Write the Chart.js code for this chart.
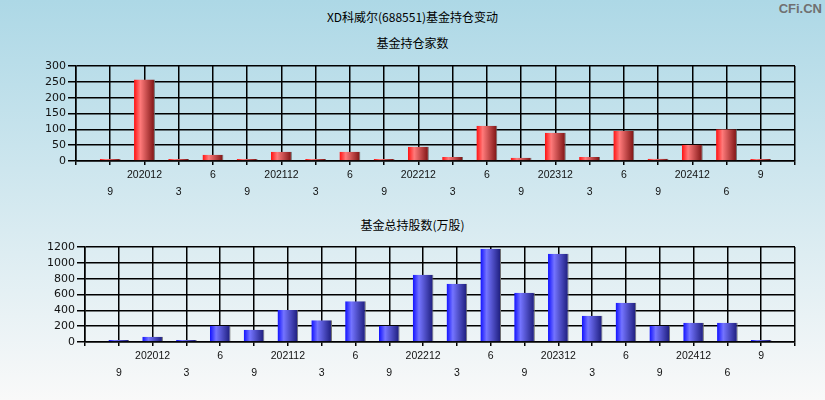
<!DOCTYPE html>
<html>
<head>
<meta charset="utf-8">
<script src="https://cdn.jsdelivr.net/npm/chart.js@4"></script>
<style>
  body { margin: 0; }
  #page {
    position: relative; width: 825px; height: 400px; overflow: hidden;
    background: linear-gradient(to bottom, #add8e6 0%, #f9f9f9 100%);
    font-family: "Noto Sans CJK SC", sans-serif; color: #000;
  }
  .title { position: absolute; left: 0; width: 825px; text-align: center; font-size: 12px; line-height: 16px; }
  #logo { position: absolute; right: 3px; top: 1px; font: bold 13px "Liberation Sans", sans-serif; color: #707070; }
  canvas { position: absolute; left: 0; }
</style>
</head>
<body>
<div id="page">
  <div class="title" style="top:9px">XD科威尔(688551)基金持仓变动</div>
  <div id="logo">CFi.CN</div>
  <div class="title" style="top:35px">基金持仓家数</div>
  <div class="title" style="top:217px">基金总持股数(万股)</div>
  <canvas id="countChart" style="top:0" width="825" height="205"></canvas>
  <canvas id="shareChart" style="top:205px" width="825" height="195"></canvas>
</div>
<script>
const periods = ['202009', '202012', '202103', '202106', '202109', '202112', '202203', '202206', '202209', '202212',
  '202303', '202306', '202309', '202312', '202403', '202406', '202409', '202412', '202506', '202509'];
const tickLabels = ['9', '202012', '3', '6', '9', '202112', '3', '6', '9', '202212',
  '3', '6', '9', '202312', '3', '6', '9', '202412', '6', '9'];
const fundCounts = [4, 257, 4, 20, 3, 29, 4, 29, 3, 45, 13, 111, 10, 89, 13, 95, 7, 51, 100, 4];
const fundShares = [15, 67, 15, 206, 156, 404, 274, 514, 206, 850, 737, 1179, 623, 1116, 333, 497, 206, 244, 244, 17];
const countTicks = { max: 300, step: 50 };
const shareTicks = { max: 1200, step: 200 };

// one empty slot at each end, labels alternate between the two rows
const axisLabels = ['', ...tickLabels.map((t, i) => i % 2 === 0 ? ['', t] : [t, '']), ''];

function barGradient(stops) {
  return function (c) {
    const chart = c.chart;
    const xs = chart.scales.x;
    if (!xs || !chart.chartArea) return stops[0];
    const cx = xs.getPixelForValue(c.dataIndex);
    const w = (xs.getPixelForValue(1) - xs.getPixelForValue(0)) * 0.61;
    const g = chart.ctx.createLinearGradient(cx - w / 2, 0, cx + w / 2, 0);
    g.addColorStop(0, stops[0]);
    g.addColorStop(0.3, stops[1]);
    g.addColorStop(1, stops[2]);
    return g;
  };
}

function makeChart(id, values, ticks, colors, yWidth, topPad, xHeight) {
  return new Chart(document.getElementById(id), {
    type: 'bar',
    data: {
      labels: axisLabels,
      datasets: [{
        data: [null, ...values, null],
        backgroundColor: barGradient(colors),
        borderColor: '#707070',
        borderWidth: { right: 1, left: 0, top: 0, bottom: 0 },
        borderSkipped: false,
        minBarLength: 2,
        barPercentage: 0.61,
        categoryPercentage: 1
      }]
    },
    options: {
      responsive: false,
      animation: false,
      layout: { padding: { top: topPad, right: 30, left: 0, bottom: 0 } },
      plugins: { legend: { display: false }, title: { display: false }, tooltip: { enabled: false } },
      scales: {
        x: {
          offset: false,
          grid: { color: '#000', lineWidth: 1.5, tickLength: 4, offset: false },
          border: { color: '#000', width: 1.5 },
          ticks: {
            autoSkip: false, maxRotation: 0, color: '#111', padding: 2,
            font: { family: 'Liberation Sans', size: 10.5, lineHeight: 1.6 }
          },
          afterFit: s => { s.height = xHeight; }
        },
        y: {
          min: 0, max: ticks.max,
          grid: { color: '#000', lineWidth: 1.5, tickLength: 8 },
          border: { color: '#000', width: 1.5 },
          ticks: {
            stepSize: ticks.step, autoSkip: false, color: '#111', padding: 2,
            font: { family: 'DejaVu Sans', size: 11 },
            callback: v => String(v)
          },
          afterFit: s => { s.width = yWidth; }
        }
      }
    }
  });
}

makeChart('countChart', fundCounts, countTicks, ['#ff1010', '#ff7a7a', '#7a1010'], 76, 66, 44);
makeChart('shareChart', fundShares, shareTicks, ['#1010ff', '#7474ff', '#1a1a78'], 85, 42, 58);
</script>
</body>
</html>
